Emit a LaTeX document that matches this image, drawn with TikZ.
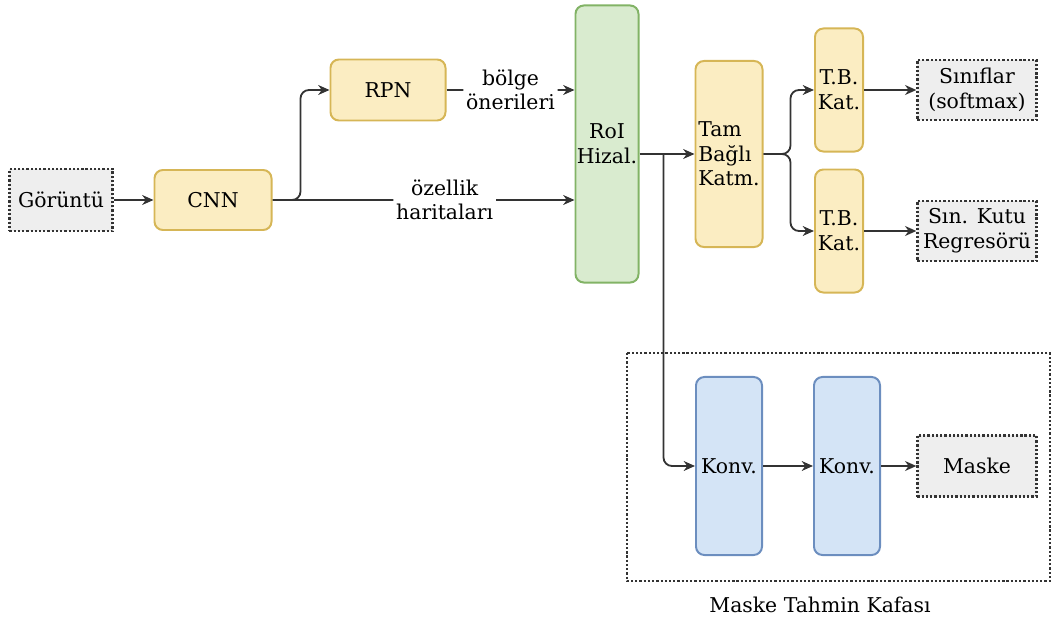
\documentclass[tikz,border=0pt]{standalone}
\usepackage{fontspec}
\setmainfont{DejaVu Serif}
\usepackage{tikz}
\usetikzlibrary{arrows,arrows.meta,calc,positioning}
\definecolor{GoldFill}{HTML}{FBEDC2}
\definecolor{GoldLine}{HTML}{D6B656}
\definecolor{LeafFill}{HTML}{D9EBCF}
\definecolor{LeafLine}{HTML}{82B366}
\definecolor{SkyFill}{HTML}{D4E4F6}
\definecolor{SkyLine}{HTML}{6C8EBF}
\definecolor{IoFill}{HTML}{EEEEEE}
\definecolor{Wire}{HTML}{333333}

\begin{document}
\begin{tikzpicture}[
        x=0.025cm, y=-0.025cm,
        font=\fontsize{14.5}{17.5}\selectfont,
        layerbox/.style = {draw=GoldLine, fill=GoldFill, line width=1.4pt,
            rounded corners=6pt, align=center, inner sep=1pt},
        roibox/.style = {layerbox, draw=LeafLine, fill=LeafFill},
        convbox/.style = {layerbox, draw=SkyLine, fill=SkyFill},
        iobox/.style = {draw=Wire, fill=IoFill, line width=1.6pt,
            dash pattern=on 1.6pt off 1.4pt, align=center, inner sep=1pt,
            minimum width=2.975cm, minimum height=1.5cm},
        wire/.style = {draw=Wire, line width=1.3pt,
            -{Stealth[length=8pt, width=7pt, inset=2.5pt]}, rounded corners=6pt},
        gap/.style = {fill=white, align=center, inner sep=2pt},
    ]
    \useasboundingbox (0,0) rectangle (1052,624);

    % backbone
    \node[iobox, minimum width=2.575cm, minimum height=1.55cm] (img) at (61,200) {Görüntü};
    \node[layerbox, minimum width=2.925cm, minimum height=1.5cm] (cnn) at (213,200) {CNN};
    \node[layerbox, minimum width=2.875cm, minimum height=1.525cm] (rpn) at (388,90) {RPN};
    \node[roibox, minimum width=1.525cm, minimum height=6.925cm] (roi) at (607,144) {RoI\\Hizal.};

    % box head
    \node[layerbox, align=left, minimum width=1.675cm, minimum height=4.65cm] (fc) at (729,154) {Tam\\Bağlı\\Katm.};
    \node[layerbox, minimum width=1.2cm, minimum height=3.075cm] (fcA) at (839,90) {T.B.\\Kat.};
    \node[layerbox, minimum width=1.2cm, minimum height=3.075cm] (fcB) at (839,231) {T.B.\\Kat.};
    \node[iobox] (cls) at (977,90) {Sınıflar\\(softmax)};
    \node[iobox] (reg) at (977,231) {Sın. Kutu\\Regresörü};

    % mask head
    \draw[Wire, line width=1.6pt, dash pattern=on 1.6pt off 1.4pt] (627,353) rectangle (1050,581);
    \node[convbox, minimum width=1.65cm, minimum height=4.45cm] (conv1) at (729,466) {Konv.};
    \node[convbox, minimum width=1.65cm, minimum height=4.45cm] (conv2) at (847,466) {Konv.};
    \node[iobox, minimum height=1.525cm] (mask) at (977,466) {Maske};
    \node (headlbl) at (820,605) {Maske Tahmin Kafası};

    % connectors
    \draw[wire] (img) -- (cnn);
    \draw[wire] (cnn.east) -- ++(28,0) |- (rpn.west);
    \draw[wire] (cnn.east) -- node[gap, pos=0.57] {özellik\\haritaları} (cnn.east -| roi.west);
    \draw[wire] (rpn.east) -- node[gap] {bölge\\önerileri} (rpn.east -| roi.west);
    \draw[wire] (fc.west -| roi.east) -- (fc.west);
    \coordinate (split) at ($(fc.west -| roi.east)+(24,0)$);
    \draw[wire] (split) |- (conv1.west);
    \draw[wire] (fc.east) -- ++(27,0) |- (fcA.west);
    \draw[wire] (fc.east) -- ++(27,0) |- (fcB.west);
    \draw[wire] (fcA) -- (cls);
    \draw[wire] (fcB) -- (reg);
    \draw[wire] (conv1) -- (conv2);
    \draw[wire] (conv2) -- (mask);
\end{tikzpicture}
\end{document}
